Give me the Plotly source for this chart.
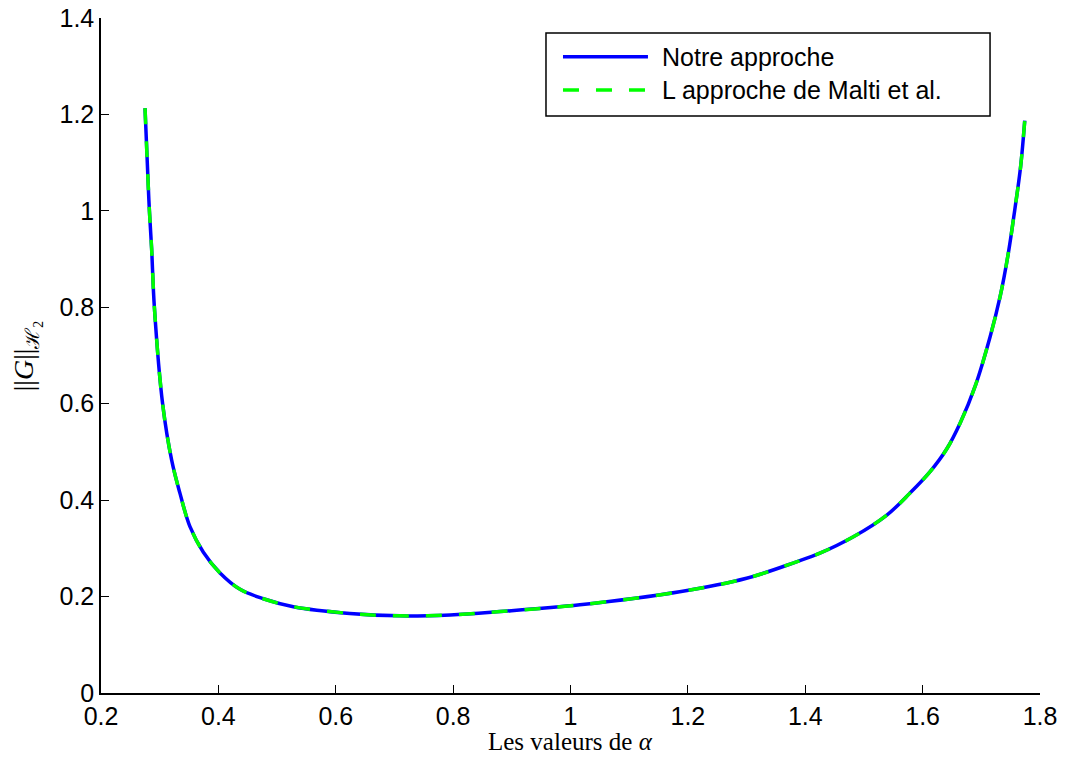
import plotly.graph_objects as go

# Values
alpha = [0.275, 0.2806, 0.2824, 0.2862, 0.2909, 0.305, 0.3204, 0.3346, 0.3516,
         0.3744, 0.4028, 0.4369, 0.4766, 0.5277, 0.624, 0.709, 0.795, 0.880,
         1.016, 1.186, 1.300, 1.385, 1.425, 1.482, 1.539, 1.578, 1.612,
         1.641, 1.664, 1.690, 1.715, 1.732, 1.746, 1.757, 1.767, 1.774]
norm_notre = [1.213, 1.050, 1.002, 0.923, 0.801, 0.600, 0.483, 0.414, 0.345,
              0.292, 0.249, 0.215, 0.1955, 0.179, 0.165, 0.160, 0.162, 0.169,
              0.183, 0.210, 0.238, 0.272, 0.290, 0.324, 0.369, 0.414, 0.458,
              0.506, 0.560, 0.638, 0.739, 0.822, 0.912, 1.002, 1.092, 1.187]
norm_malti = list(norm_notre)

series_names = ["Notre approche", "L approche de Malti et al."]
x_ticks = [0.2, 0.4, 0.6, 0.8, 1.0, 1.2, 1.4, 1.6, 1.8]
x_tick_labels = ["0.2", "0.4", "0.6", "0.8", "1", "1.2", "1.4", "1.6", "1.8"]
y_ticks = [0, 0.2, 0.4, 0.6, 0.8, 1.0, 1.2, 1.4]
y_tick_labels = ["0", "0.2", "0.4", "0.6", "0.8", "1", "1.2", "1.4"]

BLUE = "#0000FF"
GREEN = "#00FF00"
GREEN_DASH = "16px,17px"
SANS = "Liberation Sans, Arial, sans-serif"
SERIF = "Liberation Serif, Times New Roman, serif"

fig = go.Figure()
fig.add_trace(go.Scatter(
    x=alpha, y=norm_notre, mode="lines", name=series_names[0], showlegend=False,
    line=dict(color=BLUE, width=3.5, shape="spline", smoothing=1.0)))
fig.add_trace(go.Scatter(
    x=alpha, y=norm_malti, mode="lines", name=series_names[1], showlegend=False,
    line=dict(color=GREEN, width=3.5, dash=GREEN_DASH, shape="spline", smoothing=1.0)))

axis_common = dict(
    showgrid=False, zeroline=False, showline=True, linecolor="black", linewidth=1.5,
    ticks="inside", ticklen=8, tickwidth=1.2, tickcolor="black", mirror=False,
    automargin=False, ticklabeloverflow="allow",
    tickfont=dict(family=SANS, size=25, color="black"),
)

# Legend drawn in the MATLAB style (long line samples)
lx0, lx1, ltext = 0.492, 0.5825, 0.5953
row_y = [0.9427, 0.8933]
shapes = [
    dict(type="rect", xref="paper", yref="paper", x0=0.4739, x1=0.9468, y0=0.8548, y1=0.9778,
         line=dict(color="black", width=1.5), fillcolor="white", layer="above"),
    dict(type="line", xref="paper", yref="paper", x0=lx0, x1=lx1, y0=row_y[0], y1=row_y[0],
         line=dict(color=BLUE, width=3.5), layer="above"),
    dict(type="line", xref="paper", yref="paper", x0=lx0, x1=lx1, y0=row_y[1], y1=row_y[1],
         line=dict(color=GREEN, width=3.5, dash=GREEN_DASH), layer="above"),
]
annotations = [
    dict(text=series_names[i], xref="paper", yref="paper", x=ltext, y=row_y[i],
         xanchor="left", yanchor="middle", showarrow=False,
         font=dict(family=SANS, size=25, color="black"))
    for i in range(2)
]
annotations += [
    dict(text="Les valeurs de <i>α</i>", xref="paper", yref="paper", x=0.4995, y=-0.0715,
         xanchor="center", yanchor="middle", showarrow=False,
         font=dict(family=SERIF, size=25, color="black")),
    dict(text="||<i>G</i>||<sub><span style='font-family:DejaVu Serif'>ℋ</span><sub>2</sub></sub>",
         xref="paper", yref="paper", x=-0.079, y=0.50,
         xanchor="center", yanchor="middle", showarrow=False, textangle=-90,
         font=dict(family=SERIF, size=28, color="black")),
]

# The page places the figure 8px from the top-left corner of the window,
# so the figure is sized to fit the window with that offset.
fig.update_layout(
    width=1050, height=744,
    margin=dict(l=93, r=18, t=10, b=59),
    paper_bgcolor="white", plot_bgcolor="white",
    xaxis=dict(range=[0.2, 1.8], tickvals=x_ticks, ticktext=x_tick_labels, **axis_common),
    yaxis=dict(range=[0, 1.4], tickvals=y_ticks, ticktext=y_tick_labels, **axis_common),
    shapes=shapes, annotations=annotations,
    showlegend=False,
)

fig.write_html("out.html")
